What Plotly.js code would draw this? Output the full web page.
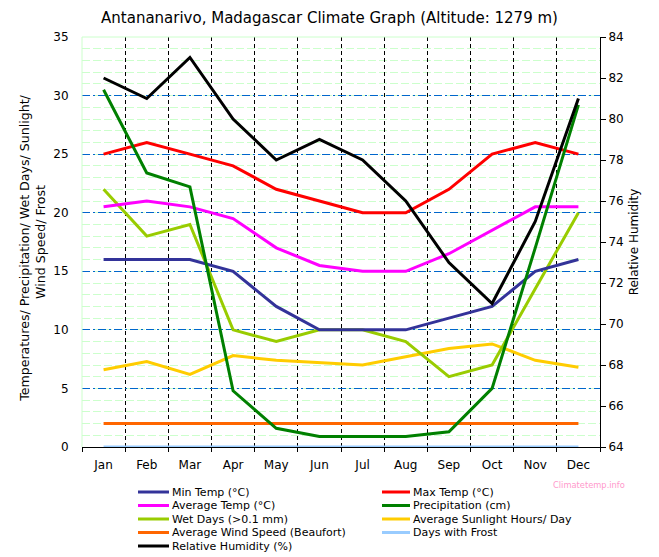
<!DOCTYPE html>
<html>
<head>
<meta charset="utf-8">
<script src="https://cdn.plot.ly/plotly-3.0.1.min.js"></script>
<style>html,body{margin:0;padding:0;background:#fff;}#chart{width:659px;height:557px;}</style>
</head>
<body>
<div id="chart"></div>
<script>
const months = ["Jan","Feb","Mar","Apr","May","Jun","Jul","Aug","Sep","Oct","Nov","Dec"];
const minTemp  = [16, 16, 16, 15, 12, 10, 10, 10, 11, 12, 15, 16];
const maxTemp  = [25, 26, 25, 24, 22, 21, 20, 20, 22, 25, 26, 25];
const avgTemp  = [20.5, 21, 20.5, 19.5, 17, 15.5, 15, 15, 16.5, 18.5, 20.5, 20.5];
const precip   = [30.5, 23.4, 22.2, 4.8, 1.6, 0.9, 0.9, 0.9, 1.3, 5, 17, 29.2];
const wetDays  = [22, 18, 19, 10, 9, 10, 10, 9, 6, 7, 13.5, 20];
const sunlight = [6.6, 7.3, 6.2, 7.8, 7.4, 7.2, 7.0, 7.7, 8.4, 8.8, 7.4, 6.8];
const wind     = [2, 2, 2, 2, 2, 2, 2, 2, 2, 2, 2, 2];
const frost    = [0, 0, 0, 0, 0, 0, 0, 0, 0, 0, 0, 0];
const humidity = [82, 81, 83, 80, 78, 79, 78, 76, 73, 71, 75, 81];

const leftTicks  = [0, 5, 10, 15, 20, 25, 30, 35];

const seriesNames = ["Min Temp (°C)", "Max Temp (°C)", "Average Temp (°C)", "Precipitation (cm)",
  "Wet Days (>0.1 mm)", "Average Sunlight Hours/ Day", "Average Wind Speed (Beaufort)",
  "Days with Frost", "Relative Humidity (%)"];
const seriesColors = ["#333399", "#ff0000", "#ff00ff", "#008000", "#99cc00", "#ffcc00", "#ff6600", "#99ccff", "#000000"];
const seriesData = [minTemp, maxTemp, avgTemp, precip, wetDays, sunlight, wind, frost, humidity];

const FONT = "DejaVu Sans, Verdana, sans-serif";
const W = 659, H = 557, ML = 82, MR = 59, MT = 37, MB = 110;
const PW = W - ML - MR, PH = H - MT - MB;
const px2x = p => (p - ML) / PW;
const px2y = p => (H - MB - p) / PH;

const drawOrder = [7, 6, 5, 4, 2, 0, 1, 3, 8];
const traces = drawOrder.map(i => ({
  type: "scatter", mode: "lines", x: months, y: seriesData[i], name: seriesNames[i],
  yaxis: i === 8 ? "y2" : "y",
  line: {color: seriesColors[i], width: 3},
  showlegend: false, hoverinfo: "skip"
}));

// plot-area border pieces (pale green top and left edge)
const shapes = [
  {type: "line", xref: "paper", yref: "paper", x0: 0, x1: 1, y0: 1, y1: 1, line: {color: "#ccffcc", width: 1}, layer: "above"},
  {type: "line", xref: "paper", yref: "paper", x0: 0, x1: 0, y0: 0, y1: 1, line: {color: "#ccffcc", width: 1}, layer: "above"}
];
// custom two-column legend
const annotations = [];
const rowY = [492, 505.5, 519, 532.5, 546];
seriesNames.forEach((nm, i) => {
  const col = i % 2, row = Math.floor(i / 2);
  const lx0 = col === 0 ? 138 : 382;
  const lx1 = col === 0 ? 169 : 410;
  const y = px2y(rowY[row]);
  shapes.push({type: "line", xref: "paper", yref: "paper", x0: px2x(lx0), x1: px2x(lx1), y0: y, y1: y,
    line: {color: seriesColors[i], width: 3}});
  annotations.push({xref: "paper", yref: "paper", x: px2x(lx1 + 2), y: y, xanchor: "left", yanchor: "middle",
    text: nm, showarrow: false, borderpad: 0, font: {family: FONT, size: 11, color: "#000"}});
});
annotations.push({xref: "paper", yref: "paper", x: px2x(552), y: px2y(485), xanchor: "left", yanchor: "middle",
  text: "Climatetemp.info", showarrow: false, borderpad: 0, font: {family: FONT, size: 8.3, color: "#ff99cc"}});

const NB = "\u00a0\u00a0\u00a0";
const layout = {
  width: W, height: H,
  margin: {l: ML, r: MR, t: MT, b: MB, pad: 0},
  paper_bgcolor: "#fff", plot_bgcolor: "#fff",
  font: {family: FONT, size: 12, color: "#000"},
  title: {text: "Antananarivo, Madagascar Climate Graph (Altitude: 1279 m)", font: {family: FONT, size: 15, color: "#000"},
    x: 0.5, xanchor: "center", y: 1 - 18 / H, yanchor: "middle"},
  showlegend: false,
  xaxis: {type: "category", categoryorder: "array", categoryarray: months, range: [-0.5, 11.5],
    tickson: "boundaries", ticks: "outside", ticklen: 4, tickcolor: "#000", ticklabelstandoff: 7,
    showgrid: true, gridcolor: "#000", gridwidth: 1, griddash: "4px,3px",
    showline: true, linecolor: "#000", linewidth: 1, layer: "below traces",
    zeroline: false, tickfont: {family: FONT, size: 12}, fixedrange: true},
  yaxis: {range: [0, 35], tickvals: leftTicks, ticks: "outside", ticklen: 10,
    tickcolor: "rgba(0,0,0,0)", showgrid: true, gridcolor: "#0066cc", gridwidth: 1, griddash: "8px,3px,2px,3px",
    zeroline: false, showline: false,
    minor: {tick0: 0, dtick: 1, showgrid: true, gridcolor: "#ccffcc", griddash: "8px,3px", gridwidth: 1, ticks: ""},
    tickfont: {family: FONT, size: 12},
    title: {text: "Temperatures/ Precipitation/ Wet Days/ Sunlight/" + NB + "<br>Wind Speed/ Frost" + NB,
      font: {family: FONT, size: 12.6}, standoff: 4},
    fixedrange: true},
  yaxis2: {range: [64, 84], dtick: 2, tick0: 64, overlaying: "y", side: "right", showgrid: false, zeroline: false,
    showline: true, linecolor: "#000", linewidth: 1, ticks: "outside", ticklen: 5, tickcolor: "#000",
    tickfont: {family: FONT, size: 12},
    title: {text: "Relative Humidity", font: {family: FONT, size: 12}, standoff: 6},
    fixedrange: true},
  shapes: shapes,
  annotations: annotations
};

Plotly.newPlot("chart", traces, layout, {displayModeBar: false, staticPlot: true});
</script>
</body>
</html>
